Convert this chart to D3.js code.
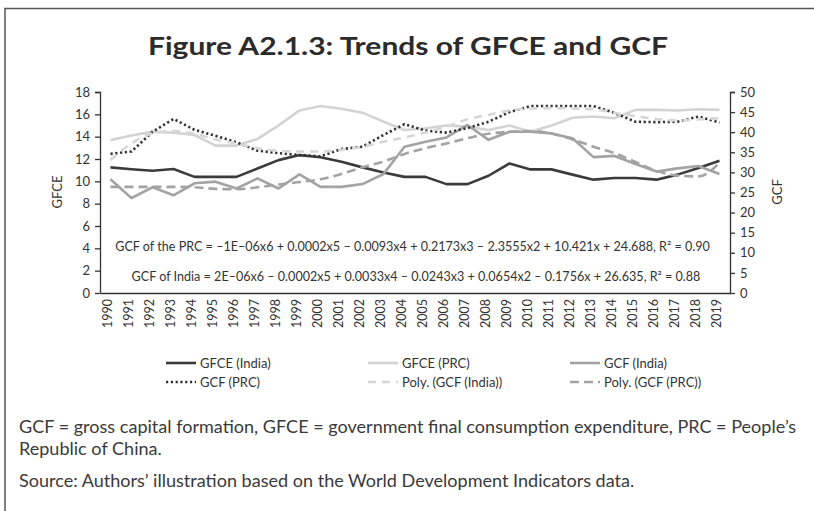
<!DOCTYPE html>
<html>
<head>
<meta charset="utf-8">
<script src="https://cdn.jsdelivr.net/npm/d3@7"></script>
<style>
body { margin: 0; background: #fff; }
svg { display: block; font-family: Lato, "Open Sans", sans-serif; }
</style>
</head>
<body>
<div></div>
<script>
// values (GFCE on left axis, GCF on right axis)
var years = ["1990","1991","1992","1993","1994","1995","1996","1997","1998","1999",
	"2000","2001","2002","2003","2004","2005","2006","2007","2008","2009",
	"2010","2011","2012","2013","2014","2015","2016","2017","2018","2019"];

var gfceIndia = [11.25, 11.08, 10.95, 11.1, 10.4, 10.4, 10.4, 11.15, 11.9, 12.35,
	12.15, 11.75, 11.25, 10.8, 10.4, 10.4, 9.75, 9.75, 10.5, 11.6,
	11.07, 11.07, 10.6, 10.15, 10.3, 10.3, 10.15, 10.6, 11.2, 11.85];

var gfcePRC = [13.7, 14.1, 14.45, 14.35, 14.15, 13.2, 13.2, 13.8, 15.0, 16.35,
	16.75, 16.5, 16.15, 15.35, 14.6, 14.75, 15.0, 14.9, 14.6, 15.0,
	14.45, 15.0, 15.7, 15.8, 15.65, 16.4, 16.4, 16.35, 16.45, 16.4];

var gcfIndia = [28.3, 23.6, 26.3, 24.3, 27.3, 27.7, 26.0, 28.5, 26.0, 29.5,
	26.4, 26.4, 27.1, 29.6, 36.4, 37.6, 38.7, 41.8, 38.1, 40.1,
	40.1, 39.7, 38.5, 33.8, 34.1, 32.1, 30.2, 31.0, 31.6, 29.6];

var gcfPRC = [34.6, 35.2, 40.1, 43.3, 40.6, 39.1, 37.5, 35.4, 34.8, 34.3,
	34.0, 35.8, 36.4, 39.3, 42.0, 40.4, 39.9, 41.0, 42.6, 45.0,
	46.5, 46.5, 46.5, 46.5, 44.8, 42.6, 42.5, 42.6, 43.9, 42.4];

var polyGcfIndia = [33.1, 37.2, 39.7, 40.3, 39.6, 38.2, 37.2, 36.0, 35.4, 35.2,
	35.2, 35.6, 36.4, 37.6, 38.7, 39.9, 41.4, 43.2, 44.3, 45.4,
	45.9, 46.0, 45.9, 45.7, 44.8, 44.0, 43.3, 42.9, 43.2, 43.5];

var polyGcfPRC = [26.4, 26.4, 26.4, 26.4, 26.3, 25.9, 25.8, 26.3, 27.0, 27.6,
	28.3, 29.6, 31.3, 32.7, 34.6, 36.0, 37.2, 38.5, 39.6, 40.1,
	40.3, 39.7, 38.2, 36.4, 34.8, 32.6, 30.4, 29.2, 29.0, 32.4];

var leftTicks = [0, 2, 4, 6, 8, 10, 12, 14, 16, 18];
var rightTicks = [0, 5, 10, 15, 20, 25, 30, 35, 40, 45, 50];

var eqPRC = "GCF of the PRC = \u20131E\u201306x6 + 0.0002x5 \u2013 0.0093x4 + 0.2173x3 \u2013 2.3555x2 + 10.421x + 24.688, R\u00b2 = 0.90";
var eqIndia = "GCF of India = 2E\u201306x6 \u2013 0.0002x5 + 0.0033x4 \u2013 0.0243x3 + 0.0654x2 \u2013 0.1756x + 26.635, R\u00b2 = 0.88";

var series = [
	{ name: "GFCE (India)", values: gfceIndia, axis: "left", color: "#3b3b3b", dash: null },
	{ name: "GFCE (PRC)", values: gfcePRC, axis: "left", color: "#d3d3d3", dash: null },
	{ name: "GCF (India)", values: gcfIndia, axis: "right", color: "#a3a3a3", dash: null },
	{ name: "GCF (PRC)", values: gcfPRC, axis: "right", color: "#333333", dash: "2.2,2.6" },
	{ name: "Poly. (GCF (India))", values: polyGcfIndia, axis: "right", color: "#d6d6d6", dash: "8,6" },
	{ name: "Poly. (GCF (PRC))", values: polyGcfPRC, axis: "right", color: "#a3a3a3", dash: "9,5" }
];

var svg = d3.select("body").select("div").append("svg")
	.attr("width", 814)
	.attr("height", 511);

// frame round the figure
svg.append("path")
	.attr("d", "M5,511 L5,8.5 L814,8.5")
	.attr("fill", "none")
	.attr("stroke", "#555")
	.attr("stroke-width", 1.5);

var title = svg.append("text")
	.attr("x", 408)
	.attr("y", 55)
	.attr("text-anchor", "middle")
	.style("font-size", "24px")
	.style("font-weight", "bold")
	.style("fill", "#2b2b2b")
	.attr("textLength", 520)
	.attr("lengthAdjust", "spacingAndGlyphs")
	.text("Figure A2.1.3: Trends of GFCE and GCF");

var x = d3.scaleBand().domain(years).range([100, 730]).padding(0);
var yLeft = d3.scaleLinear().domain([0, 18]).range([293, 92]);
var yRight = d3.scaleLinear().domain([0, 50]).range([293, 92]);

var axisColor = "#333";

var leftAxis = svg.append("g")
	.attr("transform", "translate(100,0)")
	.call(d3.axisLeft(yLeft).tickValues(leftTicks).tickSize(5).tickPadding(5));

var rightAxis = svg.append("g")
	.attr("transform", "translate(730,0)")
	.call(d3.axisRight(yRight).tickValues(rightTicks).tickSize(5).tickPadding(5));

var bottomAxis = svg.append("g")
	.attr("transform", "translate(0,293)")
	.call(d3.axisBottom(x).tickSize(0).tickPadding(0));

[leftAxis, rightAxis, bottomAxis].forEach(function(g) {
	g.selectAll("path").attr("stroke", axisColor).attr("stroke-width", 1.3);
	g.selectAll("line").attr("stroke", axisColor).attr("stroke-width", 1.3);
	g.selectAll("text").style("font-family", "Lato, 'Open Sans', sans-serif")
		.style("font-size", "13px").style("fill", "#333");
});
leftAxis.select(".domain").attr("d", "M-5,92.5H0.5V293.5");
rightAxis.select(".domain").attr("d", "M5,92.5H0.5V293.5");

bottomAxis.selectAll("text")
	.attr("y", 0)
	.attr("x", 0)
	.attr("dy", "0.15em")
	.attr("transform", "translate(0,6) rotate(-90)")
	.attr("text-anchor", "end")
	.style("font-size", "12.5px");

svg.append("text")
	.attr("transform", "translate(62,192) rotate(-90)")
	.attr("text-anchor", "middle")
	.style("font-size", "13px")
	.style("fill", "#333")
	.text("GFCE");

svg.append("text")
	.attr("transform", "translate(782,192) rotate(-90)")
	.attr("text-anchor", "middle")
	.style("font-size", "13px")
	.style("fill", "#333")
	.text("GCF");

// lines, drawn in Excel series order
var lineGroup = svg.append("g");
series.forEach(function(s) {
	var yScale = s.axis == "left" ? yLeft : yRight;
	var line = d3.line()
		.x(function(d, i) { return x(years[i]) + x.bandwidth() / 2; })
		.y(function(d) { return yScale(d); });
	if (s.name.indexOf("Poly") == 0) line.curve(d3.curveMonotoneX);
	lineGroup.append("path")
		.datum(s.values)
		.attr("d", line)
		.attr("fill", "none")
		.attr("stroke", s.color)
		.attr("stroke-width", 2.6)
		.attr("stroke-linejoin", "round")
		.attr("stroke-dasharray", s.dash);
});

// trend equations
var eqGroup = svg.append("g").style("fill", "#333");
var eq1 = eqGroup.append("text")
	.attr("x", 412.5)
	.attr("y", 251)
	.attr("text-anchor", "middle")
	.style("font-size", "13px")
	.text(eqPRC);
var eq2 = eqGroup.append("text")
	.attr("x", 416)
	.attr("y", 281)
	.attr("text-anchor", "middle")
	.style("font-size", "13px")
	.text(eqIndia);
var eqSize = 13 * 595 / eq1.node().getComputedTextLength();
eq1.style("font-size", eqSize + "px");
eq2.style("font-size", eqSize + "px");

// legend, 3 columns x 2 rows
var legend = svg.append("g");
var colX = [166, 368, 570];
var rowY = [363, 382];
series.forEach(function(s, i) {
	var lx = colX[i % 3];
	var ly = rowY[Math.floor(i / 3)];
	legend.append("line")
		.attr("x1", lx).attr("x2", lx + 30)
		.attr("y1", ly).attr("y2", ly)
		.attr("stroke", s.color)
		.attr("stroke-width", 2.6)
		.attr("stroke-dasharray", s.dash);
	legend.append("text")
		.attr("x", lx + 34)
		.attr("y", ly)
		.attr("dy", "0.35em")
		.style("font-size", "13px")
		.style("fill", "#333")
		.text(s.name);
});

// notes under the chart
var notes = svg.append("g").style("fill", "#3a3a3a");
var note1 = notes.append("text")
	.attr("x", 19).attr("y", 433)
	.style("font-size", "15px")
	.text("GCF = gross capital formation, GFCE = government final consumption expenditure, PRC = People\u2019s");
var noteSize = 15 * 778 / note1.node().getComputedTextLength();
note1.style("font-size", noteSize + "px");
notes.append("text")
	.attr("x", 19).attr("y", 455)
	.style("font-size", noteSize + "px")
	.text("Republic of China.");
notes.append("text")
	.attr("x", 19).attr("y", 487)
	.style("font-size", noteSize + "px")
	.text("Source: Authors\u2019 illustration based on the World Development Indicators data.");
</script>
</body>
</html>
